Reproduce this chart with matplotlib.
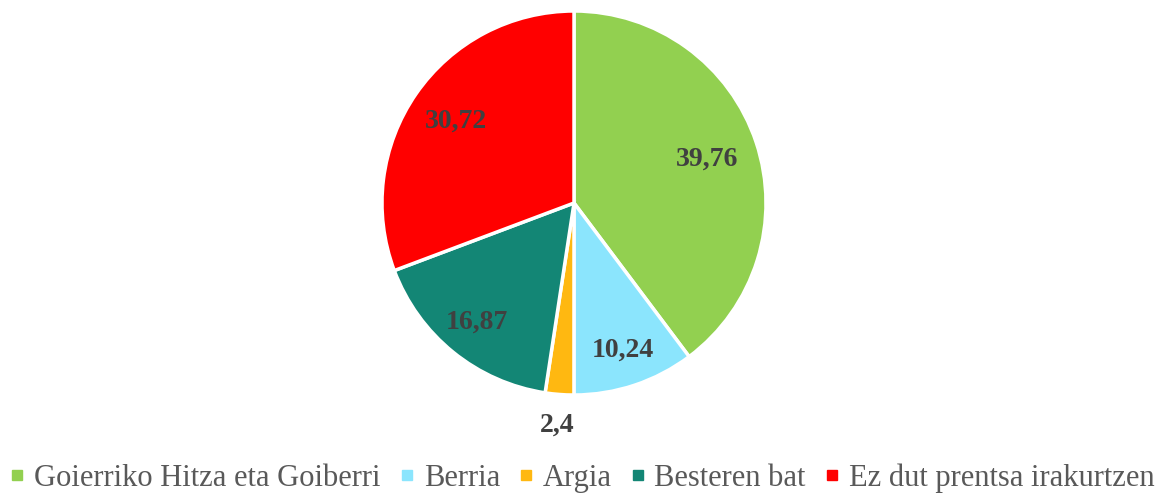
import matplotlib
matplotlib.use("Agg")
import matplotlib.pyplot as plt
import numpy as np
from matplotlib.lines import Line2D

categories = ['Goierriko Hitza eta Goiberri', 'Berria', 'Argia', 'Besteren bat', 'Ez dut prentsa irakurtzen']
values = [39.76, 10.24, 2.4, 16.87, 30.72]
value_labels = ['39,76', '10,24', '2,4', '16,87', '30,72']
colors = ['#92D050', '#8BE5FD', '#FFB811', '#138675', '#FF0000']

# how far from the centre each label sits (Excel "best fit")
label_dist = [0.73, 0.81, 1.16, 0.80, 0.75]

plt.rcParams['font.family'] = ['Liberation Serif', 'DejaVu Serif']

fig = plt.figure(figsize=(11.64, 4.98), dpi=100)
W, H = 1164, 498
cx, cy, r = 574, 203, 192
ax = fig.add_axes([(cx - r) / W, (H - cy - r) / H, 2 * r / W, 2 * r / H])

wedges, _ = ax.pie(values, colors=colors, startangle=90, counterclock=False,
                   radius=1, wedgeprops=dict(edgecolor='white', linewidth=2.5))
ax.set_xlim(-1, 1)
ax.set_ylim(-1, 1)
ax.set_aspect('equal')
ax.axis('off')

for w, lab, d in zip(wedges, value_labels, label_dist):
    ang = np.deg2rad((w.theta1 + w.theta2) / 2)
    ax.text(d * np.cos(ang), d * np.sin(ang), lab, ha='center', va='center',
            fontsize=20, fontweight='bold', color='#404040', clip_on=False)

handles = [Line2D([0], [0], marker='s', linestyle='', markersize=7,
                  markerfacecolor=c, markeredgecolor=c) for c in colors]
fig.legend(handles, categories, loc='center', bbox_to_anchor=(0.5, 1 - 478 / H),
           ncol=5, frameon=False, fontsize=22, labelcolor='#595959',
           handlelength=0.5, handletextpad=0.3, columnspacing=0.6)

fig.savefig('out.png', dpi=100)
